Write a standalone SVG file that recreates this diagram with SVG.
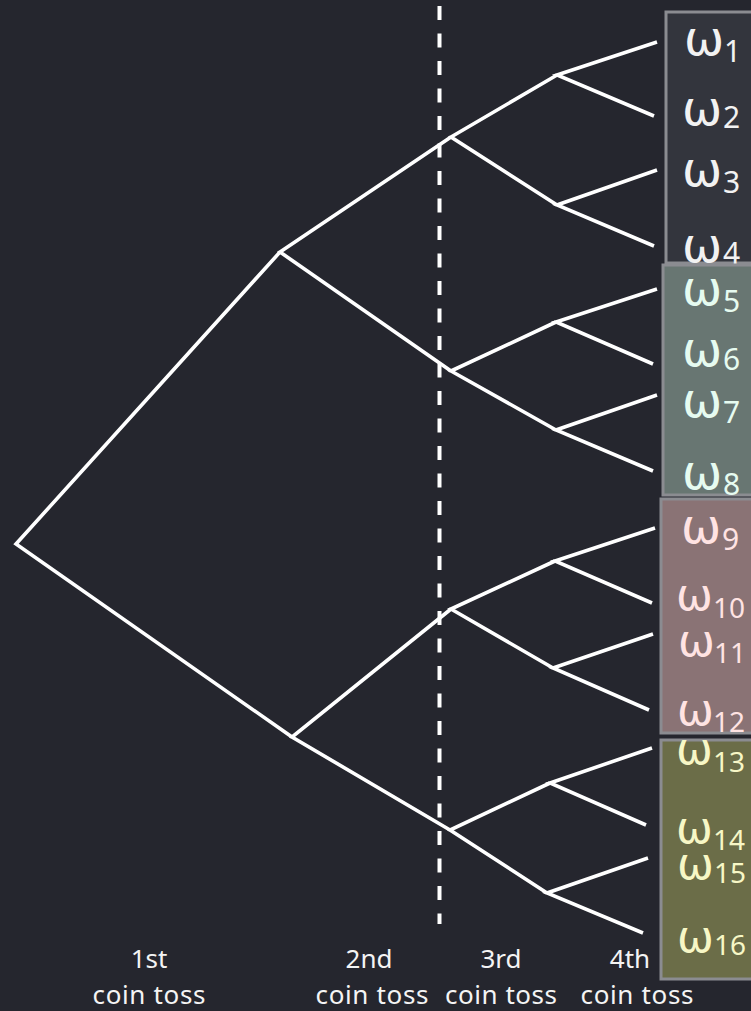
<svg xmlns="http://www.w3.org/2000/svg" width="751" height="1011" viewBox="0 0 751 1011">
  <style>
    .edge { fill: none; stroke: #ffffff; stroke-width: 3.6; stroke-linejoin: miter; stroke-linecap: butt; }
    .divider { stroke: #ffffff; stroke-width: 4; stroke-dasharray: 14 13.5; }
    .box { stroke: #8b8c91; stroke-width: 3; }
    .om { font-family: "DejaVu Sans", "Noto Sans", sans-serif; font-size: 48px; }
    .om2 { font-family: "DejaVu Sans", "Noto Sans", sans-serif; font-size: 44px; }
    .sub { font-family: "Noto Sans", "DejaVu Sans", sans-serif; font-size: 30px; }
    .sub2 { font-family: "Noto Sans", "DejaVu Sans", sans-serif; font-size: 28px; }
    .lbl { font-family: "Noto Sans", "DejaVu Sans", sans-serif; font-size: 26px; fill: #f4f4f4; text-anchor: middle; }
    .g1 { fill: #f2f2f2; }
    .g2 { fill: #e6fbf0; }
    .g3 { fill: #ffe3e3; }
    .g4 { fill: #f7f7c6; }
  </style>

  <rect x="0" y="0" width="751" height="1011" fill="#25262e"/>

  <!-- second-toss divider -->
  <line class="divider" x1="439.5" y1="6" x2="439.5" y2="924"/>

  <g id="connectors">
    <polyline class="edge" points="280,252 16,544 292,737"/>
    <polyline class="edge" points="451,137 280,252 451,371"/>
    <polyline class="edge" points="451,609 292,737 450,830"/>
    <polyline class="edge" points="557,75 451,137 557,205"/>
    <polyline class="edge" points="556,322 451,371 556,430"/>
    <polyline class="edge" points="555,561 451,609 553,668"/>
    <polyline class="edge" points="550,783 450,830 547,893"/>
    <polyline class="edge" points="657,42 557,75 654,116"/>
    <polyline class="edge" points="657,170 557,205 654,246"/>
    <polyline class="edge" points="657,289 556,322 653,364"/>
    <polyline class="edge" points="657,395 556,430 653,471"/>
    <polyline class="edge" points="655,528 555,561 652,603"/>
    <polyline class="edge" points="653,634 553,668 649,710"/>
    <polyline class="edge" points="652,748 550,783 646,825"/>
    <polyline class="edge" points="648,858 547,893 643,933"/>
  </g>

  <g id="outcomes-1">
    <rect class="box" x="666" y="12" width="100" height="251" fill="#33353d"/>
    <text class="om g1" x="684" y="55">ω</text><text class="sub g1" x="724" y="62">1</text>
    <text class="om g1" x="682" y="125">ω</text><text class="sub g1" x="723" y="128">2</text>
    <text class="om g1" x="682" y="186">ω</text><text class="sub g1" x="723" y="193">3</text>
    <text class="om g1" x="682" y="262">ω</text><text class="sub g1" x="723" y="264">4</text>
  </g>

  <g id="outcomes-2">
    <rect class="box" x="663" y="265" width="100" height="230" fill="#687672"/>
    <text class="om g2" x="682" y="305">ω</text><text class="sub g2" x="723" y="312">5</text>
    <text class="om g2" x="682" y="366">ω</text><text class="sub g2" x="723" y="370">6</text>
    <text class="om g2" x="682" y="417">ω</text><text class="sub g2" x="723" y="423">7</text>
    <text class="om g2" x="682" y="489">ω</text><text class="sub g2" x="723" y="495">8</text>
  </g>

  <g id="outcomes-3">
    <rect class="box" x="661" y="499" width="100" height="234" fill="#8a7375"/>
    <text class="om g3" x="681" y="543">ω</text><text class="sub g3" x="722" y="550">9</text>
    <text class="om2 g3" x="676" y="610">ω</text><text class="sub2 g3" x="713" y="618">10</text>
    <text class="om2 g3" x="678" y="656">ω</text><text class="sub2 g3" x="714" y="663">11</text>
    <text class="om2 g3" x="677" y="725">ω</text><text class="sub2 g3" x="713" y="732">12</text>
  </g>

  <g id="outcomes-4">
    <rect class="box" x="661" y="740" width="100" height="239" fill="#6b6d48"/>
    <text class="om2 g4" x="676" y="764">ω</text><text class="sub2 g4" x="713" y="772">13</text>
    <text class="om2 g4" x="676" y="843">ω</text><text class="sub2 g4" x="713" y="850">14</text>
    <text class="om2 g4" x="677" y="879">ω</text><text class="sub2 g4" x="714" y="883">15</text>
    <text class="om2 g4" x="677" y="952">ω</text><text class="sub2 g4" x="714" y="955">16</text>
  </g>

  <g id="toss-labels">
    <text class="lbl" x="149" y="968">1st</text>
    <text class="lbl" x="149" y="1004" textLength="113" lengthAdjust="spacing">coin toss</text>
    <text class="lbl" x="369" y="968">2nd</text>
    <text class="lbl" x="372" y="1004" textLength="113" lengthAdjust="spacing">coin toss</text>
    <text class="lbl" x="501" y="968">3rd</text>
    <text class="lbl" x="501" y="1004" textLength="112" lengthAdjust="spacing">coin toss</text>
    <text class="lbl" x="630" y="968">4th</text>
    <text class="lbl" x="637" y="1004" textLength="113" lengthAdjust="spacing">coin toss</text>
  </g>
</svg>
